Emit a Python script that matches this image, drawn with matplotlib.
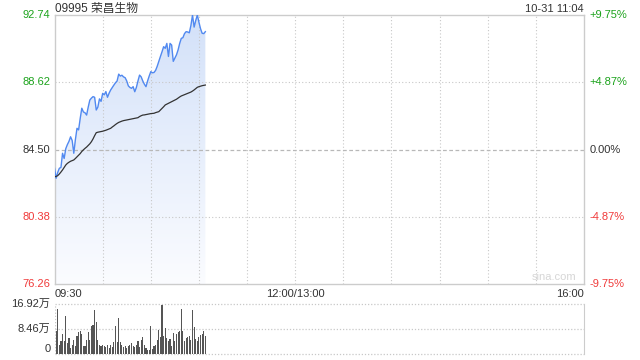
import numpy as np
import matplotlib
matplotlib.use('Agg')
import matplotlib.pyplot as plt
from matplotlib.colors import LinearSegmentedColormap

plt.rcParams['font.family'] = ['Liberation Sans', 'Noto Sans CJK SC', 'DejaVu Sans']

# 09995 荣昌生物, one point per minute from 09:30 to 11:04
price = [83.35, 82.74, 83.10, 83.35, 83.40, 84.27, 83.95, 84.55, 84.80, 85.00,
         85.28, 85.05, 84.27, 85.10, 85.80, 85.70, 86.40, 87.03, 86.80, 86.75,
         86.61, 87.10, 87.53, 87.65, 87.74, 87.70, 86.92, 87.10, 87.60, 87.45,
         87.94, 87.85, 88.05, 87.70, 87.95, 88.15, 88.30, 88.45, 88.59, 88.70,
         89.12, 89.00, 89.05, 88.95, 88.90, 88.70, 88.40, 88.30, 88.25, 88.35,
         88.04, 88.30, 88.70, 89.06, 88.95, 88.70, 88.50, 88.35, 88.70, 89.00,
         89.27, 89.20, 89.22, 89.35, 89.60, 89.90, 90.20, 90.49, 90.80, 90.70,
         91.00, 90.20, 91.00, 90.90, 89.90, 90.10, 90.30, 90.60, 91.00, 91.31,
         91.35, 91.60, 91.72, 91.70, 91.65, 92.10, 92.74, 92.00, 92.40, 92.74,
         92.30, 91.90, 91.62, 91.60, 91.72]

avg_price = [82.83, 82.85, 82.90, 83.00, 83.12, 83.25, 83.40, 83.55, 83.65, 83.72,
             83.78, 83.82, 83.86, 83.95, 84.05, 84.15, 84.25, 84.38, 84.48, 84.57,
             84.65, 84.75, 84.85, 84.98, 85.15, 85.35, 85.53, 85.56, 85.58, 85.60,
             85.62, 85.65, 85.68, 85.72, 85.76, 85.80, 85.88, 85.95, 86.03, 86.10,
             86.16, 86.20, 86.24, 86.27, 86.29, 86.31, 86.33, 86.35, 86.37, 86.39,
             86.41, 86.43, 86.45, 86.52, 86.57, 86.61, 86.62, 86.64, 86.66, 86.68,
             86.70, 86.71, 86.72, 86.76, 86.79, 86.82, 86.92, 87.02, 87.12, 87.23,
             87.28, 87.33, 87.38, 87.43, 87.48, 87.53, 87.58, 87.65, 87.72, 87.78,
             87.82, 87.86, 87.90, 87.94, 87.98, 88.02, 88.08, 88.15, 88.23, 88.31,
             88.35, 88.38, 88.41, 88.43, 88.45]

# volume in 万
volume = [11.05, 7.67, 15.23, 3.16, 4.29, 6.88, 4.29, 12.75, 3.72, 5.41,
          2.03, 3.16, 4.85, 2.82, 5.98, 7.33, 7.90, 6.88, 2.59, 2.59,
          4.85, 7.33, 4.85, 9.59, 9.70, 14.78, 10.72, 4.85, 3.16, 2.59,
          3.16, 2.82, 2.37, 3.16, 2.03, 3.16, 2.37, 3.95, 9.36, 3.95,
          12.18, 3.95, 3.16, 2.37, 2.82, 2.03, 2.82, 3.16, 3.72, 2.59,
          2.37, 3.16, 4.29, 2.37, 4.62, 5.75, 3.16, 2.03, 1.47, 1.24,
          9.59, 1.69, 2.82, 3.16, 4.85, 8.23, 5.75, 16.69, 6.20, 8.80,
          5.41, 4.29, 5.08, 2.82, 7.11, 4.29, 6.88, 7.33, 7.67, 15.23,
          7.67, 4.29, 5.41, 5.75, 5.98, 4.85, 15.00, 9.14, 5.08, 4.51,
          5.75, 6.54, 6.88, 7.67, 6.20]

prev_close = 84.50
price_ticks = [92.74, 88.62, 84.50, 80.38, 76.26]
pct_labels = ['+9.75%', '+4.87%', '0.00%', '-4.87%', '-9.75%']
tick_colors = ['#1ca31c', '#1ca31c', '#333333', '#f03a3a', '#f03a3a']
vol_ticks = [16.92, 8.46, 0]
vol_labels = ['16.92万', '8.46万', '0']

n_total = 330  # 09:30-12:00 + 13:00-16:00 minutes
x = np.arange(len(price))
fs = 8

fig = plt.figure(figsize=(6.4, 3.6), dpi=100)
ax = fig.add_axes([0.0852, 0.2111, 0.8273, 0.7472])
axv = fig.add_axes([0.0852, 0.0167, 0.8273, 0.1389])

border = '#cccccc'
for a in (ax, axv):
    a.set_xlim(0, n_total)
    a.set_xticks([])
    a.set_yticks([])

ax.set_ylim(price_ticks[-1], price_ticks[0])
for s in ax.spines.values():
    s.set_color(border)
    s.set_linewidth(1)

# gradient fill under price line
cmap = LinearSegmentedColormap.from_list('f', ['#fbfcff', '#d3e1f9'])
grad = np.linspace(0, 1, 256).reshape(-1, 1)
im = ax.imshow(grad, cmap=cmap, aspect='auto', origin='lower',
               extent=[0, len(price) - 1, price_ticks[-1], max(price)], zorder=1)
poly = ax.fill_between(x, price, price_ticks[-1], color='none', lw=0)
clip = poly.get_paths()[0]
im.set_clip_path(clip, transform=ax.transData)

# grid: vertical every 30 minutes
for t in range(30, n_total, 30):
    ax.axvline(t, color='#c8c8c8', lw=0.8, ls=(0, (1, 2)), zorder=2)
for p in (88.62, 80.38):
    ax.axhline(p, color='#c8c8c8', lw=0.8, ls=(0, (1, 2)), zorder=2)
ax.axhline(prev_close, color='#b8b8b8', lw=0.9, ls=(0, (3, 2)), zorder=2)

ax.plot(x, price, color='#5189f0', lw=1.0, zorder=4)
ax.plot(x, avg_price, color='#333333', lw=0.9, zorder=4)

# y labels
for p, pl, c in zip(price_ticks, pct_labels, tick_colors):
    ax.text(-0.008, p, f'{p:.2f}', transform=ax.get_yaxis_transform(),
            ha='right', va='center', fontsize=fs, color=c)
    ax.text(1.01, p, pl, transform=ax.get_yaxis_transform(),
            ha='left', va='center', fontsize=fs, color=c)

ax.text(0, 1.011, '09995 荣昌生物', transform=ax.transAxes, ha='left', va='baseline',
        fontsize=8.5, color='#333333')
ax.text(1, 1.011, '10-31 11:04', transform=ax.transAxes, ha='right', va='baseline',
        fontsize=fs, color='#333333')
ax.text(0, -0.018, '09:30', transform=ax.transAxes, ha='left', va='top',
        fontsize=fs, color='#333333')
ax.text(150 / n_total, -0.018, '12:00/13:00', transform=ax.transAxes, ha='center',
        va='top', fontsize=fs, color='#333333')
ax.text(1, -0.018, '16:00', transform=ax.transAxes, ha='right', va='top',
        fontsize=fs, color='#333333')
ax.text(0.985, 0.008, 'sina.com', transform=ax.transAxes, ha='right', va='bottom',
        fontsize=fs, color='#d6d6d6')

# volume panel
axv.set_ylim(0, vol_ticks[0])
for side in ('left', 'top', 'bottom'):
    axv.spines[side].set_visible(False)
axv.spines['right'].set_color(border)
for v in vol_ticks:
    axv.axhline(v, color='#c8c8c8', lw=0.9, ls=(0, (1, 1.5)), zorder=1, clip_on=False)
axv.axvline(0, color='#c8c8c8', lw=0.9, ls=(0, (1, 1.5)), zorder=1)
axv.bar(x, volume, width=0.7, color='#555555', lw=0, zorder=3)
for v, lab in zip(vol_ticks, vol_labels):
    yy = v if v > 0 else 1.8
    axv.text(-0.008, yy, lab, transform=axv.get_yaxis_transform(), ha='right',
             va='center', fontsize=fs, color='#333333')

fig.savefig('out.png', dpi=100)
